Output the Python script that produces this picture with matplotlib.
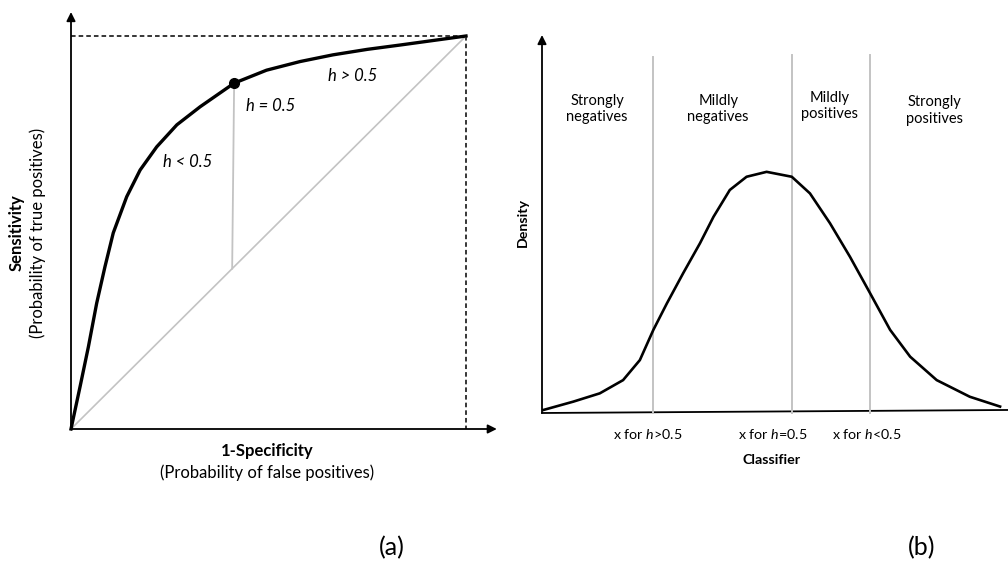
import matplotlib
matplotlib.use("Agg")
import matplotlib.pyplot as plt

plt.rcParams["font.family"] = ["Lato", "DejaVu Sans"]
plt.rcParams["mathtext.fontset"] = "custom"
plt.rcParams["mathtext.rm"] = "Lato"
plt.rcParams["mathtext.it"] = "Lato:italic"

# ---- panel (a): ROC curve
roc_fpr = [0.0, 0.023, 0.044, 0.065, 0.086, 0.107, 0.141, 0.175, 0.217, 0.268,
           0.327, 0.413, 0.495, 0.580, 0.663, 0.750, 0.833, 0.920, 1.0]
roc_tpr = [0.0, 0.108, 0.209, 0.320, 0.413, 0.499, 0.591, 0.659, 0.718, 0.774,
           0.820, 0.880, 0.913, 0.935, 0.952, 0.966, 0.977, 0.989, 1.0]
cut_fpr, cut_tpr = 0.413, 0.880   # h = 0.5 point
roc_labels = ["h > 0.5", "h = 0.5", "h < 0.5"]
roc_label_xy = [(0.712, 0.898), (0.506, 0.822), (0.296, 0.679)]

# ---- panel (b): classifier density
dens_x = [0.003, 0.067, 0.124, 0.174, 0.210, 0.239, 0.268, 0.303, 0.339, 0.368,
          0.403, 0.439, 0.482, 0.536, 0.575, 0.618, 0.661, 0.704, 0.747, 0.790,
          0.847, 0.918, 0.983]
dens_y = [0.008, 0.030, 0.052, 0.087, 0.140, 0.220, 0.290, 0.370, 0.449, 0.519,
          0.590, 0.625, 0.638, 0.625, 0.581, 0.502, 0.413, 0.317, 0.220, 0.149,
          0.087, 0.043, 0.017]
cut_x = [0.238, 0.536, 0.704]
cut_top = [0.942, 0.947, 0.947]
cut_labels = ["x for $h$>0.5", "x for $h$=0.5", "x for $h$<0.5"]
cut_label_x = [0.227, 0.494, 0.696]
region_labels = ["Strongly\nnegatives", "Mildly\nnegatives", "Mildly\npositives", "Strongly\npositives"]
region_x = [0.118, 0.378, 0.618, 0.843]
region_y = [0.804, 0.804, 0.812, 0.800]

GRAY = "#c3c3c3"
fig = plt.figure(figsize=(10.08, 5.62), dpi=100)

# ============================================================
# (a) ROC
# ============================================================
ax = fig.add_axes([71 / 1008, (562 - 429) / 562, 395 / 1008, 393 / 562])
ax.set_xlim(0, 1); ax.set_ylim(0, 1)
ax.axis("off")
arrow = dict(arrowstyle="-|>", lw=1.3, color="k", mutation_scale=13, shrinkA=0, shrinkB=0)
ax.annotate("", xy=(0, 1.061), xytext=(0, 0), arrowprops=arrow, annotation_clip=False)
ax.annotate("", xy=(1.078, 0), xytext=(0, 0), arrowprops=arrow, annotation_clip=False)
ax.plot([0, 1], [1, 1], "k--", lw=1.1, dashes=(3, 2), clip_on=False)
ax.plot([1, 1], [1, 0], "k--", lw=1.1, dashes=(3, 2), clip_on=False)
ax.plot([0, 1], [0, 1], color=GRAY, lw=1.2, clip_on=False)
ax.plot([cut_fpr, cut_fpr - 0.005], [cut_tpr, cut_fpr - 0.005], color=GRAY, lw=1.3)
ax.plot(roc_fpr, roc_tpr, color="k", lw=2.4, solid_joinstyle="round", clip_on=False)
ax.plot([cut_fpr], [cut_tpr], "o", color="k", ms=7, clip_on=False)
for lab, (x, y) in zip(roc_labels, roc_label_xy):
    ax.text(x, y, lab, style="italic", fontsize=12, ha="center", va="center")
ax.text(-0.137, 0.5, "Sensitivity", rotation=90, fontweight="bold", fontsize=12,
        ha="center", va="center")
ax.text(-0.084, 0.5, "(Probability of true positives)", rotation=90, fontsize=12,
        ha="center", va="center")
ax.text(0.496, -0.056, "1-Specificity", fontweight="bold", fontsize=12, ha="center", va="center")
ax.text(0.496, -0.112, "(Probability of false positives)", fontsize=12, ha="center", va="center")
ax.text(0.813, -0.303, "(a)", fontsize=18, ha="center", va="center")

# ============================================================
# (b) density
# ============================================================
bx = fig.add_axes([542 / 1008, (562 - 413) / 562, 466 / 1008, 378 / 562])
bx.set_xlim(0, 1); bx.set_ylim(0, 1)
bx.axis("off")
bx.annotate("", xy=(0, 1.0), xytext=(0, 0), arrowprops=arrow, annotation_clip=False)
bx.plot([0, 1.0], [0, 0.008], color="k", lw=1.3, clip_on=False)
for x, top in zip(cut_x, cut_top):
    bx.plot([x, x], [0, top], color=GRAY, lw=1.4, clip_on=False)
bx.plot(dens_x, dens_y, color="k", lw=1.9, solid_joinstyle="round", clip_on=False)
for lab, x, y in zip(region_labels, region_x, region_y):
    bx.text(x, y, lab, fontsize=10.5, ha="center", va="center", linespacing=1.25)
for lab, x in zip(cut_labels, cut_label_x):
    bx.text(x, -0.056, lab, fontsize=10.3, ha="center", va="center")
bx.text(0.493, -0.124, "Classifier", fontweight="bold", fontsize=10.3, ha="center", va="center")
bx.text(-0.041, 0.503, "Density", rotation=90, fontweight="bold", fontsize=10.3,
        ha="center", va="center")
bx.text(0.815, -0.357, "(b)", fontsize=18, ha="center", va="center")

fig.savefig("out.png", dpi=100)
